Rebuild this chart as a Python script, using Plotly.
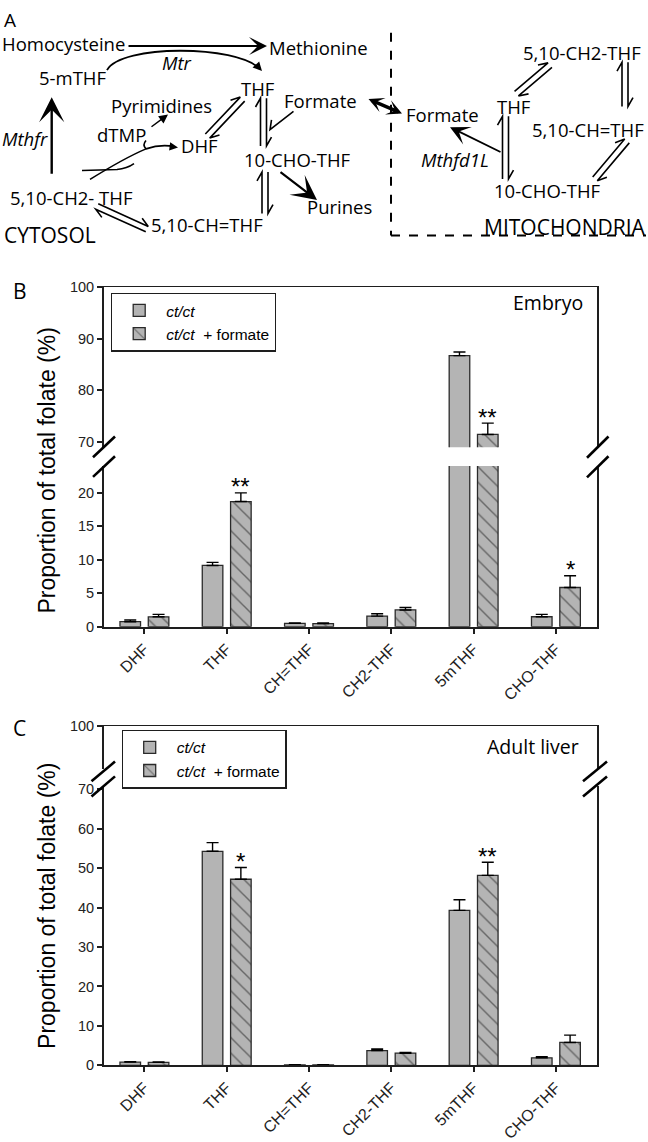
import math
import plotly.graph_objects as go

W, H = 648, 1142

# ---------------- data ----------------
categories = ["DHF", "THF", "CH=THF", "CH2-THF", "5mTHF", "CHO-THF"]

embryo_ct = [0.74, 9.15, 0.5, 1.58, 86.7, 1.48]
embryo_ct_err = [0.26, 0.45, 0.06, 0.34, 0.7, 0.35]
embryo_formate = [1.47, 18.7, 0.45, 2.5, 71.4, 5.85]
embryo_formate_err = [0.36, 1.3, 0.1, 0.36, 2.2, 1.75]
embryo_sig = ["", "**", "", "", "**", "*"]

liver_ct = [0.8, 54.3, 0.1, 3.75, 39.3, 1.9]
liver_ct_err = [0.12, 2.2, 0.03, 0.4, 2.7, 0.3]
liver_formate = [0.75, 47.2, 0.1, 3.08, 48.2, 5.8]
liver_formate_err = [0.12, 3.0, 0.03, 0.17, 3.3, 1.85]
liver_sig = ["", "*", "", "", "**", ""]

series_names = ["<i>ct/ct</i>", "<i>ct/ct</i>\u00a0\u00a0+ formate"]

embryo_lower_ticks = [0, 5, 10, 15, 20]
embryo_upper_ticks = [70, 80, 90, 100]
liver_lower_ticks = [0, 10, 20, 30, 40, 50, 60, 70]
liver_upper_ticks = [100]

# ---------------- style ----------------
GRAY = "#b4b4b4"
EDGE = "#2a2a2a"
AX = "#1e1e1e"
ARIAL = "Liberation Sans, Arial, sans-serif"
MYRIAD = "Open Sans, Noto Sans, sans-serif"
BAR_W = 0.25
OFFS = [-0.296, 0.048]
DIAG = 18.5


def fx(px):
    return px / W


def fy(py):
    return 1 - py / H


fig = go.Figure()


def add_bars(vals, errs, idx, xa, ya, legend, showlegend):
    marker = dict(color=GRAY, line=dict(color=EDGE, width=1.3))
    if idx == 1:
        marker["pattern"] = dict(shape="\\", size=11, solidity=0.13,
                                 fgcolor="#1a1a1a", bgcolor=GRAY, fillmode="overlay")
    fig.add_trace(go.Bar(
        x=categories, y=vals, width=BAR_W, offset=OFFS[idx],
        name=series_names[idx], marker=marker,
        error_y=dict(type="data", array=errs, arrayminus=[0] * len(errs),
                     symmetric=False, color="black", thickness=1.4, width=6),
        xaxis=xa, yaxis=ya, legend=legend, showlegend=showlegend,
        hoverinfo="skip"))


# Panel B (embryo): lower + upper segments
add_bars(embryo_ct, embryo_ct_err, 0, "x", "y", "legend", True)
add_bars(embryo_formate, embryo_formate_err, 1, "x", "y", "legend", True)
add_bars(embryo_ct, embryo_ct_err, 0, "x2", "y2", "legend", False)
add_bars(embryo_formate, embryo_formate_err, 1, "x2", "y2", "legend", False)
# Panel C (adult liver)
add_bars(liver_ct, liver_ct_err, 0, "x3", "y3", "legend2", True)
add_bars(liver_formate, liver_formate_err, 1, "x3", "y3", "legend2", True)
add_bars(liver_ct, liver_ct_err, 0, "x4", "y4", "legend2", False)
add_bars(liver_formate, liver_formate_err, 1, "x4", "y4", "legend2", False)

XDOM = [fx(104), fx(597)]
B_LOW = [fy(628), fy(465)]
B_UP = [fy(446), fy(283.3)]
C_LOW = [fy(1073.3), fy(790)]
C_UP = [fy(773), fy(729)]
B_LOW_RANGE = [0, 24]
B_UP_RANGE = [68.9, 100]
C_LOW_RANGE = [0, 70.8]
C_UP_RANGE = [88.5, 100]

tickfont = dict(family=ARIAL, size=14.5, color="#222")


def xaxis_bottom(anchor):
    return dict(domain=XDOM, anchor=anchor, type="category", range=[-0.49, 5.5],
                showline=True, linewidth=2, linecolor=AX, ticks="outside",
                ticklen=5, tickwidth=1.5, tickcolor=AX, tickangle=-45,
                tickfont=dict(family=ARIAL, size=16, color="#222"),
                showgrid=False, zeroline=False, fixedrange=True)


def xaxis_top(anchor, match):
    return dict(domain=XDOM, anchor=anchor, matches=match, side="top",
                showline=True, linewidth=1.3, linecolor=AX, ticks="",
                showticklabels=False, showgrid=False, zeroline=False)


def yaxis(anchor, dom, rng, tickvals):
    return dict(domain=dom, anchor=anchor, range=rng, tickvals=tickvals,
                showline=True, linewidth=2, linecolor=AX, mirror=True,
                ticks="outside", ticklen=5, tickwidth=1.5, tickcolor=AX,
                tickfont=tickfont, showgrid=False, zeroline=False, fixedrange=True)


fig.update_layout(
    xaxis=xaxis_bottom("y"),
    xaxis2=xaxis_top("y2", "x"),
    xaxis3=xaxis_bottom("y3"),
    xaxis4=xaxis_top("y4", "x3"),
    yaxis=yaxis("x", B_LOW, B_LOW_RANGE, embryo_lower_ticks),
    yaxis2=yaxis("x2", B_UP, B_UP_RANGE, embryo_upper_ticks),
    yaxis3=yaxis("x3", C_LOW, C_LOW_RANGE, liver_lower_ticks),
    yaxis4=yaxis("x4", C_UP, C_UP_RANGE, liver_upper_ticks),
)

annotations = []
shapes = []


# significance stars (placed above error bars of the formate series)
def add_stars(vals, errs, sig, xa_low, ya_low, xa_up, ya_up, low_max):
    for i, s in enumerate(sig):
        if not s:
            continue
        top = vals[i] + errs[i]
        up = top > low_max
        annotations.append(dict(
            x=i + OFFS[1] + BAR_W / 2, y=top,
            xref=xa_up if up else xa_low, yref=ya_up if up else ya_low,
            text=s, showarrow=False, yanchor="middle", xanchor="center", yshift=6,
            font=dict(family=ARIAL, size=24, color="black")))


add_stars(embryo_formate, embryo_formate_err, embryo_sig, "x", "y", "x2", "y2", B_LOW_RANGE[1])
add_stars(liver_formate, liver_formate_err, liver_sig, "x3", "y3", "x4", "y4", C_LOW_RANGE[1])


def note(x, y, s, size=DIAG, anchor="left", family=MYRIAD, angle=0):
    annotations.append(dict(x=fx(x), y=fy(y), xref="paper", yref="paper", text=s,
                            showarrow=False, xanchor=anchor, yanchor="middle",
                            textangle=angle, borderpad=0,
                            font=dict(family=family, size=size, color="black")))


def arrow(tail, head, width, size, style=3, both=False, ssize=None):
    d = dict(x=fx(head[0]), y=fy(head[1]), xref="paper", yref="paper",
             ax=tail[0] - head[0], ay=tail[1] - head[1], axref="pixel", ayref="pixel",
             showarrow=True, arrowhead=style, arrowsize=size, arrowwidth=width,
             arrowcolor="black", text="", standoff=0, startstandoff=0)
    if both:
        d["arrowside"] = "end+start"
        d["startarrowhead"] = style
        d["startarrowsize"] = ssize or size
    annotations.append(d)


def pstr(cmds):
    out = []
    for c in cmds:
        op = c[0]
        pts = " ".join(f"{fx(p[0]):.5f},{fy(p[1]):.5f}" for p in c[1:])
        out.append(f"{op} {pts}")
    return " ".join(out)


def path(cmds, width=1.6, dash=None):
    line = dict(color="black", width=width)
    if dash:
        line["dash"] = dash
    shapes.append(dict(type="path", xref="paper", yref="paper", path=pstr(cmds), line=line))


def seg(p, q, width=2.6, dash=None):
    line = dict(color="black", width=width)
    if dash:
        line["dash"] = dash
    shapes.append(dict(type="line", xref="paper", yref="paper", x0=fx(p[0]), y0=fy(p[1]),
                       x1=fx(q[0]), y1=fy(q[1]), line=line))


def equil(p, q, d=3.0, L=9.0, w=5.0, width=1.6):
    dx, dy = q[0] - p[0], q[1] - p[1]
    n = math.hypot(dx, dy)
    ux, uy = dx / n, dy / n
    nx, ny = uy, -ux
    a1 = (p[0] + d * nx, p[1] + d * ny)
    a2 = (q[0] + d * nx, q[1] + d * ny)
    ab = (a2[0] - L * ux + w * nx, a2[1] - L * uy + w * ny)
    b1 = (q[0] - d * nx, q[1] - d * ny)
    b2 = (p[0] - d * nx, p[1] - d * ny)
    bb = (b2[0] + L * ux - w * nx, b2[1] + L * uy - w * ny)
    path([("M", a1), ("L", a2), ("L", ab), ("M", b1), ("L", b2), ("L", bb)], width=width)


# ---------------- Panel A: pathway diagram ----------------
note(3, 12, "A", size=19)
note(0.5, 36, "Homocysteine")
note(267.5, 40, "Methionine")
note(177, 55, "<i>Mtr</i>", anchor="center")
note(37.5, 71, "5-mTHF")
note(239.5, 82, "THF")
note(109.5, 98.5, "Pyrimidines")
note(358, 93.5, "Formate", anchor="right")
note(96, 128.5, "dTMP")
note(179.5, 139.5, "DHF")
note(0.5, 132, "<i>Mthfr</i>")
note(9, 192, "5,10-CH2- THF")
note(2.5, 230, "CYTOSOL", size=21)
note(149.5, 220, "5,10-CH=THF")
note(242.5, 153.5, "10-CHO-THF")
note(306, 202, "Purines")

note(405.5, 108.5, "Formate")
note(496, 100, "THF")
note(522, 45, "5,10-CH2-THF")
note(645, 123.5, "5,10-CH=THF", anchor="right")
note(492.5, 185, "10-CHO-THF")
note(482.5, 222, "MITOCHONDRIA", size=21)
note(419.5, 153.5, "<i>Mthfd1L</i>")

# main arrows
arrow((127, 38.5), (267, 38.5), 2, 1.5)
arrow((51.7, 168.5), (51.7, 90.5), 2.4, 1.75)
arrow((279, 166), (317, 195), 2.2, 1.9)
arrow((367, 92), (402, 107), 3.4, 0.75, both=True)
arrow((502, 146.5), (450, 121), 1.8, 1.8)
arrow((150, 121.5), (168, 108), 1.5, 1.2, style=2)
arrow((170, 140.5), (178, 141.5), 1.4, 1.2, style=2)
arrow((255.5, 57), (262, 64), 1.5, 1.2, style=2)

# Mtr arc
path([("M", (107, 63)), ("C", (121, 37), (236, 37), (260, 62))], width=1.8)
# thymidylate synthase glyph
path([("M", (82, 165)), ("L", (117, 164)), ("Q", (127, 163), (134, 158))], width=1.6)
path([("M", (90, 174)), ("Q", (125, 152), (146, 143)), ("Q", (160, 138), (174, 140.5))], width=1.6)
path([("M", (146, 143)), ("Q", (142, 139), (146, 134.5))], width=1.6)
# formate into 10-CHO-THF (cytosol)
path([("M", (293.5, 105)), ("L", (270, 123.5)), ("L", (271.5, 113.5))], width=1.6)

# equilibria (cytosol)
equil((242.5, 92.5), (207.5, 130))
equil((263.5, 91.5), (263.5, 140))
equil((265, 166.5), (265, 208.5))
equil((97, 201.5), (147, 224.5))
# equilibria (mitochondria)
equil((505.5, 110), (505.5, 173.5))
equil((516.5, 87), (550, 58))
equil((625, 55), (625, 100))
equil((595, 173.5), (627, 135))

# compartment boundary
seg((391, 25), (391, 231), width=2, dash="dash")
seg((391, 231), (646, 231), width=2, dash="dash")

# ---------------- Panels B, C decorations ----------------
note(12, 287.5, "B", size=21)
note(12, 731, "C", size=21)
note(583.5, 298.5, "Embryo", size=19.5, anchor="right")
note(579.5, 749.5, "Adult liver", size=19.5, anchor="right")
note(47, 469.5, "Proportion of total folate (%)", size=23, anchor="center",
     family=ARIAL, angle=-90)
note(47, 911.5, "Proportion of total folate (%)", size=23, anchor="center",
     family=ARIAL, angle=-90)

# axis break marks
for (xl, xr), ys in [((93, 115), [(456, 435), (476, 455)]),
                     ((587, 608.5), [(456.5, 435), (476.5, 455)]),
                     ((91.5, 115), [(785, 765), (800.5, 780)]),
                     ((583, 607), [(785, 765), (800.5, 780)])]:
    for y0, y1 in ys:
        seg((xl, y0), (xr, y1), width=2.6)

legend_common = dict(xanchor="left", yanchor="top", bgcolor="white",
                     bordercolor=AX, borderwidth=1.2, itemwidth=44,
                     font=dict(family=ARIAL, size=15.5, color="black"),
                     tracegroupgap=0)

fig.update_layout(
    width=W, height=H,
    margin=dict(l=0, r=0, t=0, b=0),
    paper_bgcolor="white", plot_bgcolor="white",
    barmode="overlay",
    showlegend=True,
    legend=dict(x=fx(111), y=fy(289), **legend_common),
    legend2=dict(x=fx(121.5), y=fy(732.5), **legend_common),
    annotations=annotations,
    shapes=shapes,
)

fig.write_html("out.html", config={"displayModeBar": False})

# remove the browser's default page margin so the figure sits at the top-left corner
with open("out.html", "r", encoding="utf-8") as f:
    html = f.read()
html = html.replace("<head>", "<head><style>html,body{margin:0;padding:0;overflow:hidden;}</style>", 1)
with open("out.html", "w", encoding="utf-8") as f:
    f.write(html)
